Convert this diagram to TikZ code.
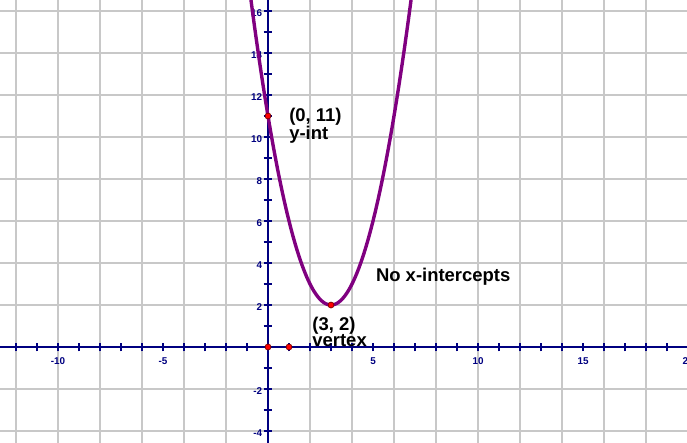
\documentclass[tikz,border=0pt]{standalone}
\usepackage{fontspec}
\setmainfont{Liberation Sans}
\usepackage{tikz}
\definecolor{AxisNavy}{HTML}{000080}
\definecolor{GridGray}{HTML}{C8C8C8}
\definecolor{CurvePurple}{HTML}{800080}
\definecolor{PointRed}{HTML}{FF0000}

\begin{document}
\begin{tikzpicture}[x=0.5cm,y=0.5cm,
  ticklbl/.style={font=\fontsize{6.7}{7}\selectfont\bfseries,text=AxisNavy,inner sep=0pt},
  note/.style={font=\fontsize{12.5}{13}\selectfont\bfseries,inner sep=0pt,anchor=base west},
  pt/.style={circle,draw=PointRed!50!black,line width=0.5pt,fill=PointRed,inner sep=0pt,minimum size=4pt}]
  \useasboundingbox (-12.762,-4.524) rectangle (19.952,16.524);
  \clip (-12.762,-4.524) rectangle (19.952,16.524);
  % grid
  \foreach \gx in {-12,-10,...,18}
    \draw[GridGray,line width=1pt] (\gx,-4.6)--(\gx,16.6);
  \foreach \gy in {-4,-2,...,16}
    \draw[GridGray,line width=1pt] (-12.8,\gy)--(20,\gy);
  % axes and ticks
  \draw[AxisNavy,line width=2pt] (-12.8,0)--(20,0);
  \draw[AxisNavy,line width=2pt] (0,-4.6)--(0,16.6);
  \foreach \tx in {-12,...,19}
    \draw[AxisNavy,line width=0.7pt] (\tx,-0.21)--(\tx,0.21);
  \foreach \ty in {-4,...,16}
    \draw[AxisNavy,line width=0.7pt] (-0.21,\ty)--(0.21,\ty);
  \foreach \tx in {-10,-5,5,10,15,20}
    \node[ticklbl] (xl\tx) at (\tx,-0.67) {\tx};
  \foreach \ty in {-4,-2,2,4,6,8,10,12,14,16}
    \node[ticklbl,anchor=east] (yl\ty) at (-0.26,\ty-0.08) {\ty};
  % parabola y = (x-3)^2 + 2
  \draw[CurvePurple,line width=2.3pt,domain=-0.9:6.9,samples=120] plot (\x,{(\x-3)^2+2});
  \node[pt] (yint) at (0,11) {};
  \node[pt] (vtx) at (3,2) {};
  \node[pt] (orig) at (0,0) {};
  \node[pt] (xone) at (1,0) {};
  \node[note] (yintxy) at (1.0,10.73) {(0, 11)};
  \node[note] (yinttxt) at (1.0,9.88) {y-int};
  \node[note] (vtxxy) at (2.1,0.81) {(3, 2)};
  \node[note] (vtxtxt) at (2.1,0.01) {vertex};
  \node[note] (noxint) at (5.13,3.1) {No x-intercepts};
\end{tikzpicture}
\end{document}
